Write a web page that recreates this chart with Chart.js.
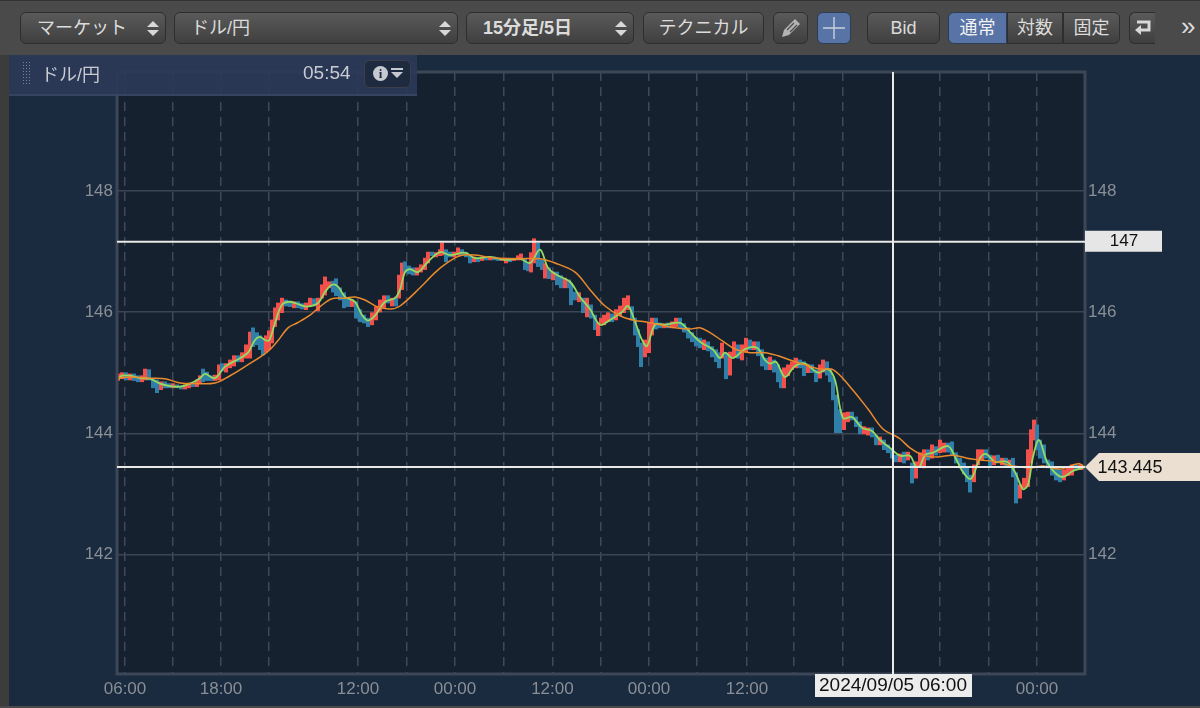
<!DOCTYPE html>
<html lang="ja">
<head>
<meta charset="utf-8">
<title>ドル/円</title>
<script src="https://cdn.jsdelivr.net/npm/chart.js@4"></script>
<style>
  html, body { margin: 0; padding: 0; width: 1200px; height: 708px; overflow: hidden; background: #1a2a3f; }
  body { position: relative; font-family: "Liberation Sans", "Noto Sans CJK JP", sans-serif; }
  canvas { position: absolute; left: 0; top: 0; }
  #toolbar { position: absolute; left: 0; top: 0; width: 1200px; height: 55px; background: #4a4a4a; border-top: 1px solid #333; box-sizing: border-box; }
  #leftEdge { position: absolute; left: 0; top: 55px; width: 9px; height: 653px; background: #3c3c3c; }
  #bottomEdge { position: absolute; left: 0; top: 706px; width: 1200px; height: 2px; background: #4a4a4a; }
  .btn { position: absolute; top: 11px; height: 32px; box-sizing: border-box; border: 1px solid #2e2e2e; border-radius: 6px;
         background: linear-gradient(#5a5a5a, #3f3f3f); color: #dcdcdc; font-size: 18px; line-height: 30px; text-align: center; white-space: nowrap; }
  .on { background: #5874a6; color: #f2f2f2; border-color: #2c3c58; }
  .left { text-align: left; padding-left: 16px; }
  .arrows { position: absolute; right: 6px; top: 8px; width: 0; height: 0; border-left: 6px solid transparent; border-right: 6px solid transparent; border-bottom: 6px solid #d8d8d8; }
  .arrows::after { content: ""; position: absolute; left: -6px; top: 9px; width: 0; height: 0; border-left: 6px solid transparent; border-right: 6px solid transparent; border-top: 6px solid #d8d8d8; }
  #panel { position: absolute; left: 9px; top: 55px; width: 408px; height: 41px; background: rgba(44, 57, 87, 0.93); border-bottom: 2px solid #364460; box-sizing: border-box; color: #c9ccd2; font-size: 18px; }
  #grip { position: absolute; left: 13px; top: 6px; width: 9px; height: 25px; background: radial-gradient(#7c8494 40%, transparent 45%) 0 0 / 3px 3px; }
  #pair { position: absolute; left: 32px; top: 5px; }
  #clock { position: absolute; left: 294px; top: 7px; font-size: 19px; }
  #info { position: absolute; left: 355px; top: 5px; width: 47px; height: 28px; box-sizing: border-box; background: #1e2a40; border: 1px solid #3c3f48; border-radius: 6px; }
  #info b { position: absolute; left: 8px; top: 5px; width: 15px; height: 15px; border-radius: 8px; background: #c6cad0; color: #1e2a40; font: bold 13px/15px "Liberation Serif", serif; text-align: center; }
  #info i { position: absolute; left: 26px; top: 11px; width: 0; height: 0; border-left: 6px solid transparent; border-right: 6px solid transparent; border-top: 6px solid #c6cad0; }
  #info u { position: absolute; left: 26px; top: 7px; width: 12px; height: 2px; background: #c6cad0; }
</style>
</head>
<body>
<canvas id="chart" width="1200" height="708"></canvas>

<div id="leftEdge"></div>
<div id="bottomEdge"></div>
<div id="toolbar">
  <div class="btn left" style="left:20px;width:146px">マーケット<span class="arrows"></span></div>
  <div class="btn left" style="left:174px;width:284px">ドル/円<span class="arrows"></span></div>
  <div class="btn left" style="left:466px;width:168px;font-weight:bold">15分足/5日<span class="arrows"></span></div>
  <div class="btn" style="left:643px;width:121px">テクニカル</div>
  <div class="btn" style="left:773px;width:35px">
    <svg width="24" height="24" style="margin-top:3px" viewBox="0 0 24 24"><path d="M3 21l2-7L16 3l5 5L10 19z" fill="#b4b4b4"/><path d="M8 14l7-7M11 16l7-7" stroke="#4a4a4a" stroke-width="1.2"/></svg>
  </div>
  <div class="btn on" style="left:817px;width:34px">
    <svg width="24" height="24" style="margin-top:3px" viewBox="0 0 24 24"><path d="M12 1v22M1 12h22" stroke="#c8d0dc" stroke-width="1.4"/></svg>
  </div>
  <div class="btn" style="left:867px;width:73px">Bid</div>
  <div class="btn on" style="left:948px;width:59px;border-radius:6px 0 0 6px">通常</div>
  <div class="btn" style="left:1007px;width:56px;border-radius:0">対数</div>
  <div class="btn" style="left:1063px;width:57px;border-radius:0 6px 6px 0">固定</div>
  <div class="btn" style="left:1129px;width:26px;border-right:none;border-radius:6px 0 0 6px">
    <svg width="20" height="22" style="margin-top:4px" viewBox="0 0 20 22"><path d="M4 5h12v8H6" fill="none" stroke="#d8d8d8" stroke-width="3"/><path d="M8 8v10l-6-5z" fill="#d8d8d8"/></svg>
  </div>
  <div style="position:absolute;left:1181px;top:10px;color:#dcdcdc;font-size:26px;line-height:30px">»</div>
</div>
<div id="panel">
  <div id="grip"></div>
  <div id="pair">ドル/円</div>
  <div id="clock">05:54</div>
  <div id="info"><b>i</b><u></u><i></i></div>
</div>

<script>
// prices on a 15 minute bar index
const priceMin = 140.03;
const priceMax = 149.96;
const barCount = 484;
const priceTicks = [142, 144, 146, 148];

// dashed verticals, every 6 hours
const timeTicks = [4, 28, 52, 76, 120.5, 145, 169, 193.5, 217.7, 242, 266, 290, 315, 338.5, 363, 411.5, 436, 460];
const timeLabels = ['06:00', '', '18:00', '', '12:00', '', '00:00', '', '12:00', '', '00:00', '', '12:00', '', '', '', '', '00:00'];

const barIndex = [
  0.5, 2.5, 4.5, 6.5, 8.5, 10.5, 12.5, 14, 16, 18,
  20, 22, 24, 26, 28, 30, 32, 34, 36, 38,
  40, 41.5, 43, 45, 47, 49, 51, 52.5, 54.5, 56.5,
  58.5, 60.5, 62.5, 64.5, 66.5, 68, 70, 71.5, 73, 74.5,
  76, 77.5, 79, 80.5, 82.5, 84.5, 86.5, 88.5, 90.5, 92.5,
  94.5, 96.5, 98.5, 100.5, 102.5, 104, 106, 108, 109.5, 111.5,
  113.5, 115.5, 117.5, 119.5, 121.5, 123.5, 125.5, 127.5, 129.5, 131.5,
  133.5, 135.5, 137.5, 139.5, 141, 142.5, 144, 146, 148, 150,
  152, 154, 155.5, 157.5, 159.5, 161.5, 162.5, 164.5, 166.5, 168.5,
  170.5, 172.5, 174.5, 176.5, 178.5, 180.5, 182.5, 184.5, 186.5, 188.5,
  190.5, 192.5, 194.5, 196.5, 198.5, 200.5, 202, 204, 205.5, 207,
  208.5, 210.5, 212.5, 214, 216, 218, 220, 222, 224, 226,
  227, 229, 231, 233, 235, 237, 239, 240.5, 242, 243.5,
  245.5, 247.5, 249.5, 251.5, 253.5, 255.5, 257.5, 259, 260.5, 262,
  264, 266, 267.5, 269.5, 271.5, 273.5, 275.5, 277.5, 279.5, 281.5,
  283.5, 285.5, 287.5, 289.5, 291.5, 293.5, 295.5, 297.5, 299.5, 301,
  302.5, 304.5, 306.5, 308.5, 310.5, 312.5, 314.5, 316.5, 318.5, 320.5,
  322.5, 324.5, 326.5, 328.5, 330.5, 332, 333.5, 335.5, 337.5, 339.5,
  341.5, 343.5, 345.5, 347.5, 349.5, 351.5, 353, 355, 356.5, 358,
  359.5, 361.5, 363.5, 365.5, 367.5, 369.5, 371.5, 373.5, 375.5, 377.5,
  379.5, 381.5, 383.5, 385.5, 387.5, 389.5, 391.5, 393.5, 395.5, 397.5,
  399.5, 401.5, 403.5, 405.5, 407.5, 409.5, 411.5, 413.5, 415.5, 417.5,
  419.5, 421.5, 423.5, 425, 426.5, 428.5, 430.5, 432.5, 434.5, 436.5,
  438.5, 440.5, 442.5, 444.5, 446.5, 448, 449.5, 451.5, 453.5, 455.5,
  457, 458.5, 460, 461.5, 463.5, 465.5, 467.5, 469.5, 471.5, 473.5,
  475.5, 477.5, 479.5, 481.5, 483.5
];
const barOpen = [
  144.87, 144.90, 145.00, 144.88, 144.98, 144.95, 144.85, 144.88, 145.05, 144.91,
  144.88, 144.72, 144.85, 144.82, 144.75, 144.80, 144.78, 144.73, 144.75, 144.83,
  144.77, 144.82, 145.06, 145.01, 144.95, 144.87, 144.88, 145.15, 145.01, 145.08,
  145.11, 145.28, 145.18, 145.24, 145.24, 145.74, 145.66, 145.61, 145.54, 145.34,
  145.38, 145.49, 145.76, 145.87, 145.99, 146.20, 146.18, 146.07, 146.17, 146.14,
  146.04, 146.09, 146.22, 146.02, 146.23, 146.28, 146.40, 146.51, 146.55, 146.40,
  146.32, 146.23, 146.09, 146.17, 146.04, 145.95, 145.90, 145.79, 145.87, 146.00,
  146.07, 146.27, 146.10, 146.25, 146.23, 146.37, 146.83, 146.76, 146.73, 146.61,
  146.66, 146.70, 146.81, 146.99, 146.91, 146.93, 146.94, 147.03, 146.99, 146.91,
  146.94, 147.03, 146.98, 146.94, 146.83, 146.89, 146.85, 146.91, 146.86, 146.91,
  146.89, 146.85, 146.81, 146.89, 146.85, 146.86, 146.86, 146.89, 146.83, 146.66,
  146.81, 147.14, 146.86, 146.56, 146.73, 146.53, 146.66, 146.60, 146.40, 146.53,
  146.47, 146.33, 146.17, 146.23, 145.92, 146.12, 145.95, 145.61, 145.81, 145.79,
  145.84, 145.97, 145.87, 145.94, 145.99, 146.04, 146.09, 145.90, 145.71, 145.49,
  145.26, 145.33, 145.62, 145.90, 145.82, 145.74, 145.82, 145.74, 145.76, 145.90,
  145.81, 145.74, 145.66, 145.59, 145.57, 145.38, 145.51, 145.43, 145.38, 145.33,
  145.24, 145.33, 144.96, 145.26, 145.46, 145.21, 145.34, 145.54, 145.38, 145.51,
  145.38, 145.24, 145.05, 145.21, 145.13, 145.05, 144.75, 144.95, 145.05, 145.08,
  145.21, 145.18, 145.00, 145.13, 145.05, 144.91, 145.01, 145.18, 145.05, 144.93,
  144.63, 144.39, 144.06, 144.19, 144.35, 144.27, 144.19, 143.99, 143.97, 144.09,
  143.97, 143.81, 143.89, 143.81, 143.73, 143.64, 143.53, 143.69, 143.56, 143.51,
  143.26, 143.45, 143.43, 143.73, 143.59, 143.78, 143.68, 143.69, 143.84, 143.86,
  143.68, 143.59, 143.51, 143.43, 143.31, 143.20, 143.48, 143.56, 143.73, 143.64,
  143.48, 143.64, 143.48, 143.59, 143.46, 143.59, 143.35, 142.93, 143.10, 143.12,
  143.51, 143.89, 144.14, 143.89, 143.81, 143.56, 143.53, 143.45, 143.40, 143.23,
  143.30, 143.31, 143.48, 143.40, 143.40
];
const barClose = [
  144.98, 145.00, 144.88, 144.98, 144.87, 144.85, 144.95, 145.06, 144.88, 144.75,
  144.67, 144.85, 144.75, 144.75, 144.82, 144.75, 144.73, 144.80, 144.83, 144.77,
  144.88, 144.95, 144.85, 144.87, 144.87, 144.96, 145.13, 145.03, 145.15, 145.21,
  145.28, 145.18, 145.33, 145.46, 145.67, 145.43, 145.46, 145.38, 145.29, 145.61,
  145.69, 145.87, 146.07, 146.15, 146.23, 146.10, 146.09, 146.17, 146.07, 146.05,
  146.15, 146.23, 146.10, 146.23, 146.45, 146.58, 146.50, 146.33, 146.27, 146.20,
  146.07, 146.09, 146.20, 145.90, 145.84, 145.82, 145.76, 145.99, 146.09, 146.20,
  146.27, 146.15, 146.23, 146.10, 146.61, 146.81, 146.66, 146.63, 146.61, 146.73,
  146.78, 146.89, 146.99, 146.93, 146.98, 147.03, 147.14, 146.83, 146.91, 146.99,
  147.06, 146.94, 146.91, 146.81, 146.91, 146.83, 146.91, 146.86, 146.91, 146.86,
  146.85, 146.89, 146.89, 146.83, 146.89, 146.93, 146.96, 146.70, 146.68, 146.98,
  147.21, 146.75, 146.70, 146.80, 146.55, 146.66, 146.45, 146.40, 146.56, 146.40,
  146.12, 146.20, 146.32, 145.99, 146.23, 145.90, 145.71, 145.82, 145.90, 145.95,
  145.99, 145.84, 146.04, 146.10, 146.23, 146.27, 145.87, 145.62, 145.43, 145.10,
  145.54, 145.82, 145.90, 145.72, 145.74, 145.81, 145.74, 145.84, 145.90, 145.74,
  145.67, 145.57, 145.51, 145.44, 145.41, 145.54, 145.36, 145.26, 145.18, 145.08,
  145.49, 144.90, 145.34, 145.51, 145.24, 145.46, 145.57, 145.38, 145.51, 145.28,
  145.11, 145.05, 145.26, 145.01, 144.85, 144.75, 145.08, 145.13, 145.18, 145.24,
  145.08, 144.95, 145.13, 145.00, 144.85, 145.13, 145.21, 144.96, 144.85, 144.55,
  144.01, 144.01, 144.34, 144.35, 144.22, 144.11, 143.99, 144.11, 144.09, 143.94,
  143.81, 143.94, 143.73, 143.68, 143.59, 143.53, 143.66, 143.51, 143.69, 143.18,
  143.53, 143.68, 143.73, 143.56, 143.81, 143.64, 143.89, 143.84, 143.69, 143.64,
  143.51, 143.43, 143.33, 143.20, 143.03, 143.48, 143.73, 143.73, 143.59, 143.45,
  143.63, 143.51, 143.59, 143.46, 143.56, 143.28, 142.85, 143.15, 143.26, 143.73,
  144.06, 144.22, 143.73, 143.59, 143.51, 143.43, 143.31, 143.23, 143.20, 143.40,
  143.45, 143.48, 143.40, 143.48, 143.45
];

const fastIndex = [
  0, 2.5, 6.5, 11.5, 16.5, 21.5, 26.5, 31.5, 36.5, 41.5, 44, 49, 54, 61.5, 65.5, 69, 71.5, 74, 76, 79,
  82.5, 86.5, 91.5, 95, 100.5, 104, 107.5, 110.5, 114, 119, 122.5, 125.5, 129, 134, 139, 141.5, 144, 146.5, 150.5, 155.5,
  161.5, 166.5, 174, 179, 186.5, 194, 201.5, 206.5, 211.5, 215.5, 220, 226.5, 231.5, 236.5, 241.5, 246.5, 252.5, 255.5, 259, 262.5,
  265, 269, 274, 281.5, 286.5, 291.5, 298, 301.5, 304, 308, 314, 320, 324, 326.5, 329.5, 334, 339, 344, 350.5, 355.5,
  359, 363, 367.5, 372.5, 377.5, 381.5, 386.5, 391.5, 396.5, 399.5, 401.5, 404, 408, 415.5, 419, 423, 427, 431.5, 434.5, 439,
  445, 449, 453, 455.5, 458, 461, 465, 469, 473, 478, 483
];
const fastLine = [
  144.88, 144.95, 144.95, 144.91, 144.90, 144.82, 144.78, 144.77, 144.82, 144.91, 144.98, 144.91, 145.10, 145.24, 145.33, 145.54, 145.59, 145.54, 145.53, 145.82,
  146.12, 146.17, 146.12, 146.09, 146.15, 146.33, 146.45, 146.42, 146.25, 146.17, 145.95, 145.86, 145.94, 146.17, 146.23, 146.37, 146.66, 146.71, 146.66, 146.83,
  146.99, 146.94, 146.98, 146.89, 146.91, 146.86, 146.88, 146.81, 147.03, 146.73, 146.61, 146.50, 146.25, 146.05, 145.79, 145.87, 146.00, 146.10, 145.84, 145.54,
  145.44, 145.79, 145.79, 145.82, 145.67, 145.51, 145.38, 145.24, 145.33, 145.24, 145.39, 145.41, 145.21, 145.15, 145.18, 144.93, 145.11, 145.15, 145.00, 145.06,
  144.88, 144.25, 144.27, 144.09, 144.04, 143.89, 143.76, 143.63, 143.63, 143.45, 143.46, 143.64, 143.68, 143.79, 143.61, 143.36, 143.25, 143.59, 143.66, 143.53,
  143.53, 143.36, 143.08, 143.15, 143.61, 143.89, 143.53, 143.35, 143.28, 143.38, 143.43
];

const slowIndex = [
  0, 6.5, 16.5, 24, 31.5, 39, 49, 56.5, 64, 75, 80, 85.5, 90, 96.5, 101.5, 107.5, 114, 119, 124, 130,
  136.5, 141.5, 151.5, 159, 165, 171.5, 179, 189, 201.5, 211.5, 219, 229, 236.5, 244, 251.5, 259, 264, 271.5, 279, 286.5,
  291.5, 296.5, 302.5, 309, 316.5, 324, 330.5, 336.5, 344, 351.5, 358, 366.5, 375.5, 383, 389, 391.5, 396.5, 403, 410, 418,
  425, 431.5, 440, 448, 456.5, 463, 471.5, 480.5, 484
];
const slowLine = [
  144.91, 144.93, 144.91, 144.90, 144.83, 144.82, 144.83, 144.95, 145.10, 145.34, 145.51, 145.74, 145.82, 145.95, 146.09, 146.22, 146.23, 146.25, 146.20, 146.09,
  146.05, 146.10, 146.40, 146.65, 146.81, 146.93, 146.94, 146.89, 146.88, 146.88, 146.81, 146.66, 146.37, 146.10, 145.94, 145.86, 145.84, 145.79, 145.74, 145.72,
  145.74, 145.66, 145.53, 145.39, 145.33, 145.33, 145.28, 145.21, 145.13, 145.06, 145.05, 144.77, 144.40, 144.07, 143.96, 143.91, 143.76, 143.64, 143.61, 143.64,
  143.59, 143.56, 143.53, 143.46, 143.43, 143.46, 143.41, 143.50, 143.45
];

// white markers
const upperLine = 147.16;
const upperLabel = '147';
const lastPrice = 143.445;
const lastLabel = '143.445';
const crossIndex = 388;
const crossLabel = '2024/09/05 06:00';

const upColor = '#f3504b';
const downColor = '#2f7fa9';
const tickFont = { family: '"Liberation Sans", sans-serif', size: 17 };

// plot background, frame, white lines and the tags on the axes
const overlays = {
  id: 'overlays',
  beforeDraw(chart) {
    const { ctx, chartArea: a } = chart;
    ctx.save();
    ctx.fillStyle = '#162130';
    ctx.fillRect(a.left, a.top, a.width, a.height);
    ctx.restore();
  },
  afterDraw(chart) {
    const { ctx, chartArea: a, scales } = chart;
    const upperY = scales.y.getPixelForValue(upperLine);
    const lastY = scales.y.getPixelForValue(lastPrice);
    const crossX = scales.x.getPixelForValue(crossIndex);
    ctx.save();

    ctx.strokeStyle = '#3c4757';
    ctx.lineWidth = 3;
    ctx.strokeRect(a.left, a.top, a.width, a.height);

    ctx.strokeStyle = '#e9e9e6';
    ctx.lineWidth = 2;
    ctx.beginPath();
    ctx.moveTo(a.left, upperY);
    ctx.lineTo(a.right, upperY);
    ctx.moveTo(a.left, lastY);
    ctx.lineTo(a.right, lastY);
    ctx.moveTo(crossX, a.top);
    ctx.lineTo(crossX, a.bottom);
    ctx.stroke();

    ctx.textBaseline = 'middle';
    ctx.textAlign = 'center';
    ctx.fillStyle = '#e6e6e6';
    ctx.fillRect(a.right, upperY - 11, 77, 21);
    ctx.fillStyle = '#111';
    ctx.font = '17px "Liberation Sans", sans-serif';
    ctx.fillText(upperLabel, a.right + 39, upperY);

    ctx.fillStyle = '#eadfd1';
    ctx.beginPath();
    ctx.moveTo(a.right, lastY);
    ctx.lineTo(a.right + 14, lastY - 14);
    ctx.lineTo(1200, lastY - 14);
    ctx.lineTo(1200, lastY + 14);
    ctx.lineTo(a.right + 14, lastY + 14);
    ctx.closePath();
    ctx.fill();
    ctx.fillStyle = '#111';
    ctx.font = '18px "Liberation Sans", sans-serif';
    ctx.fillText(lastLabel, a.right + 45, lastY + 1);

    ctx.fillStyle = '#ececec';
    ctx.fillRect(crossX - 78, a.bottom, 157, 23);
    ctx.fillStyle = '#111';
    ctx.font = '19px "Liberation Sans", sans-serif';
    ctx.fillText(crossLabel, crossX, a.bottom + 12);
    ctx.restore();
  }
};

new Chart(document.getElementById('chart'), {
  type: 'bar',
  data: {
    datasets: [
      {
        type: 'line',
        data: slowIndex.map((x, i) => ({ x: x, y: slowLine[i] })),
        borderColor: '#e98a2b',
        borderWidth: 1.5,
        pointRadius: 0,
        tension: 0.35,
        order: 1
      },
      {
        type: 'line',
        data: fastIndex.map((x, i) => ({ x: x, y: fastLine[i] })),
        borderColor: '#93dc62',
        borderWidth: 1.8,
        pointRadius: 0,
        tension: 0.35,
        order: 2
      },
      {
        data: barIndex.map((x, i) => ({ x: x, y: [barOpen[i], barClose[i]] })),
        backgroundColor: barIndex.map((x, i) => (barClose[i] >= barOpen[i] ? upColor : downColor)),
        barThickness: 3.4,
        borderWidth: 0,
        order: 3
      }
    ]
  },
  plugins: [overlays],
  options: {
    responsive: false,
    animation: false,
    layout: { padding: { top: 72 } },
    plugins: { legend: { display: false }, tooltip: { enabled: false } },
    scales: {
      x: {
        type: 'linear',
        min: 0,
        max: barCount,
        offset: false,
        afterBuildTicks(scale) { scale.ticks = timeTicks.map(v => ({ value: v })); },
        afterFit(scale) { scale.height = 34; },
        grid: { offset: false, color: '#3f4856', lineWidth: 1.5, drawTicks: false },
        border: { display: false, dash: [9, 6] },
        ticks: {
          autoSkip: false,
          maxRotation: 0,
          padding: 5,
          color: '#8a8f95',
          font: tickFont,
          callback(value) { return timeLabels[timeTicks.indexOf(value)]; }
        }
      },
      y: {
        position: 'left',
        min: priceMin,
        max: priceMax,
        afterBuildTicks(scale) { scale.ticks = priceTicks.map(v => ({ value: v })); },
        afterFit(scale) { scale.width = 117; },
        grid: { color: '#3b4553', lineWidth: 1.5, drawTicks: false },
        border: { display: false },
        ticks: { padding: 4, color: '#8a8f95', font: tickFont }
      },
      y2: {
        position: 'right',
        min: priceMin,
        max: priceMax,
        afterBuildTicks(scale) { scale.ticks = priceTicks.map(v => ({ value: v })); },
        afterFit(scale) { scale.width = 115; },
        grid: { display: false, drawTicks: false },
        border: { display: false },
        ticks: { padding: 3, color: '#8a8f95', font: tickFont }
      }
    }
  }
});
</script>
</body>
</html>
